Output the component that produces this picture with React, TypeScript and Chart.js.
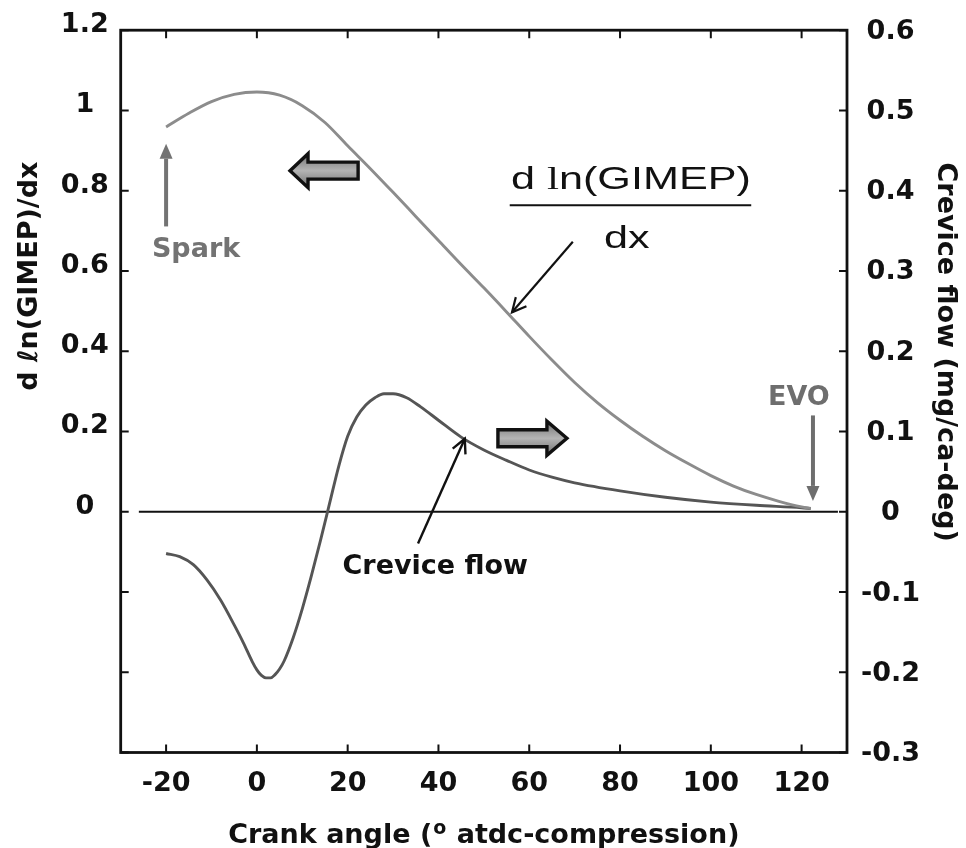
import { useEffect, useRef } from "react";
import { Chart, registerables } from "chart.js";

Chart.register(...registerables);

// d ln(GIMEP)/dx against crank angle (deg ATDC-compression), left axis
const gimepAngles = [-20, -15, -10, -5, 0, 5, 10, 15, 20, 25, 30, 35, 40, 45, 50, 55, 60, 65, 70, 75, 80, 85, 90, 95, 100, 105, 110, 115, 120, 122];
const gimepValues = [0.959, 0.993, 1.022, 1.040, 1.046, 1.038, 1.012, 0.970, 0.912, 0.855, 0.796, 0.736, 0.676, 0.616, 0.558, 0.498, 0.437, 0.378, 0.322, 0.272, 0.228, 0.188, 0.152, 0.120, 0.090, 0.064, 0.043, 0.026, 0.012, 0.008];

// Crevice flow (mg/ca-deg) against crank angle, right axis
const creviceAngles = [-20, -17, -14, -11, -8, -5, -3, -1, 0, 1, 2, 3, 4, 5, 6, 8, 10, 12, 14, 16, 18, 20, 22, 24, 26, 28, 30, 33, 36, 40, 45, 50, 55, 60, 65, 70, 80, 90, 100, 110, 120, 122];
const creviceValues = [-0.052, -0.056, -0.066, -0.085, -0.110, -0.141, -0.163, -0.187, -0.197, -0.204, -0.207, -0.207, -0.203, -0.196, -0.186, -0.157, -0.121, -0.080, -0.036, 0.010, 0.056, 0.094, 0.118, 0.133, 0.142, 0.147, 0.147, 0.142, 0.131, 0.114, 0.093, 0.077, 0.064, 0.052, 0.043, 0.036, 0.026, 0.018, 0.012, 0.008, 0.005, 0.004];

// Horizontal zero reference line
const zeroLineAngles = [-26, 128];
const zeroLineValues = [0, 0];

// Axis ticks
const xTickValues = [-20, 0, 20, 40, 60, 80, 100, 120];
const leftTickValues = [-0.6, -0.4, -0.2, 0, 0.2, 0.4, 0.6, 0.8, 1, 1.2];
const leftTickLabels = ["", "", "", "0", "0.2", "0.4", "0.6", "0.8", "1", "1.2"];
const rightTickValues = [-0.3, -0.2, -0.1, 0, 0.1, 0.2, 0.3, 0.4, 0.5, 0.6];
const rightTickLabels = ["-0.3", "-0.2", "-0.1", "0", "0.1", "0.2", "0.3", "0.4", "0.5", "0.6"];

const SANS = '"DejaVu Sans", "Liberation Sans", sans-serif';
const TICK_FONT = { family: SANS, size: 27, weight: "bold" as const };

const toPoints = (xs: number[], ys: number[]) => xs.map((x, i) => ({ x, y: ys[i] }));

function lineArrow(
  ctx: CanvasRenderingContext2D,
  x1: number, y1: number, x2: number, y2: number,
  color: string, width: number, headLen: number, headHalf: number, filled: boolean
) {
  const ang = Math.atan2(y2 - y1, x2 - x1);
  const cos = Math.cos(ang), sin = Math.sin(ang);
  const bx = x2 - cos * headLen, by = y2 - sin * headLen;
  ctx.save();
  ctx.strokeStyle = color;
  ctx.fillStyle = color;
  ctx.lineWidth = width;
  ctx.lineCap = "butt";
  ctx.beginPath();
  ctx.moveTo(x1, y1);
  ctx.lineTo(filled ? bx : x2, filled ? by : y2);
  ctx.stroke();
  ctx.beginPath();
  ctx.moveTo(bx - sin * headHalf, by + cos * headHalf);
  ctx.lineTo(x2, y2);
  ctx.lineTo(bx + sin * headHalf, by - cos * headHalf);
  if (filled) {
    ctx.closePath();
    ctx.fill();
  } else {
    ctx.lineJoin = "miter";
    ctx.stroke();
  }
  ctx.restore();
}

function blockArrow(
  ctx: CanvasRenderingContext2D,
  tipX: number, tailX: number, cy: number,
  shaftH: number, headH: number, headLen: number
) {
  const dir = Math.sign(tailX - tipX);
  const baseX = tipX + dir * headLen;
  ctx.save();
  ctx.beginPath();
  ctx.moveTo(tipX, cy);
  ctx.lineTo(baseX, cy - headH / 2);
  ctx.lineTo(baseX, cy - shaftH / 2);
  ctx.lineTo(tailX, cy - shaftH / 2);
  ctx.lineTo(tailX, cy + shaftH / 2);
  ctx.lineTo(baseX, cy + shaftH / 2);
  ctx.lineTo(baseX, cy + headH / 2);
  ctx.closePath();
  const g = ctx.createLinearGradient(0, cy - headH / 2, 0, cy + headH / 2);
  g.addColorStop(0, "#727272");
  g.addColorStop(0.5, "#b4b4b4");
  g.addColorStop(1, "#727272");
  ctx.fillStyle = g;
  ctx.fill();
  ctx.lineWidth = 3.4;
  ctx.lineJoin = "miter";
  ctx.strokeStyle = "#111";
  ctx.stroke();
  ctx.restore();
}

// Frame and inward-pointing tick marks on all four sides
const frameTicks = {
  id: "frameTicks",
  afterDatasetsDraw(chart: any) {
    const { ctx, chartArea: a, scales } = chart;
    const len = 8;
    ctx.save();
    ctx.strokeStyle = "#111";
    ctx.lineWidth = 2;
    ctx.beginPath();
    xTickValues.forEach((v) => {
      const px = scales.x.getPixelForValue(v);
      ctx.moveTo(px, a.bottom);
      ctx.lineTo(px, a.bottom - len);
      ctx.moveTo(px, a.top);
      ctx.lineTo(px, a.top + len);
    });
    leftTickValues.forEach((v) => {
      const py = scales.y.getPixelForValue(v);
      ctx.moveTo(a.left, py);
      ctx.lineTo(a.left + len, py);
    });
    rightTickValues.forEach((v) => {
      const py = scales.y1.getPixelForValue(v);
      ctx.moveTo(a.right, py);
      ctx.lineTo(a.right - len, py);
    });
    ctx.stroke();
    ctx.lineWidth = 2.8;
    ctx.strokeRect(a.left, a.top, a.right - a.left, a.bottom - a.top);
    ctx.restore();
  },
};

// Axis titles and in-plot callouts
const callouts = {
  id: "callouts",
  afterDraw(chart: any) {
    const { ctx, chartArea: a, scales } = chart;
    const X = (v: number) => scales.x.getPixelForValue(v);
    const Y = (v: number) => scales.y.getPixelForValue(v);
    const bold = `bold 27px ${SANS}`;

    ctx.save();
    ctx.textBaseline = "alphabetic";

    // Left axis title
    ctx.save();
    ctx.translate(a.left - 84, a.top + 246);
    ctx.rotate(-Math.PI / 2);
    ctx.font = bold;
    ctx.fillStyle = "#111";
    ctx.textAlign = "center";
    ctx.fillText("d \u2113n(GIMEP)/dx", 0, 0);
    ctx.restore();

    // Right axis title
    ctx.save();
    ctx.translate(a.right + 91, a.top + 322);
    ctx.rotate(Math.PI / 2);
    ctx.font = bold;
    ctx.fillStyle = "#111";
    ctx.textAlign = "center";
    ctx.fillText("Crevice flow (mg/ca-deg)", 0, 0);
    ctx.restore();

    // Bottom axis title with a raised degree "o"
    {
      const pre = "Crank angle (";
      const sup = "o";
      const post = " atdc-compression)";
      const supFont = `bold 19px ${SANS}`;
      ctx.font = bold;
      const wPre = ctx.measureText(pre).width;
      const wPost = ctx.measureText(post).width;
      ctx.font = supFont;
      const wSup = ctx.measureText(sup).width + 2;
      const total = wPre + wSup + wPost;
      let x = (a.left + a.right) / 2 - total / 2;
      const base = a.bottom + 90;
      ctx.fillStyle = "#111";
      ctx.textAlign = "left";
      ctx.font = bold;
      ctx.fillText(pre, x, base);
      x += wPre + 1;
      ctx.font = supFont;
      ctx.fillText(sup, x, base - 9);
      x += wSup - 1;
      ctx.font = bold;
      ctx.fillText(post, x, base);
    }

    // Spark marker
    ctx.font = bold;
    ctx.fillStyle = "#737373";
    ctx.textAlign = "center";
    ctx.fillText("Spark", X(-13.4), Y(0.634));
    lineArrow(ctx, X(-20), Y(0.711), X(-20), Y(0.917), "#737373", 4, 15, 6.5, true);

    // EVO marker
    ctx.font = bold;
    ctx.fillStyle = "#6e6e6e";
    ctx.textAlign = "center";
    ctx.fillText("EVO", X(119.4), Y(0.265));
    lineArrow(ctx, X(122.5), Y(0.24), X(122.5), Y(0.027), "#6e6e6e", 4, 15, 6.5, true);

    // Block arrows: which axis each curve belongs to
    blockArrow(ctx, X(7.3), X(22.3), Y(0.85), 17, 34, 18);
    blockArrow(ctx, X(68.3), X(53.1), Y(0.183), 17, 34, 20);

    // Fraction label for the upper curve
    {
      const f = 32;
      const sx = 1.35;
      const sans = `${f}px "Liberation Sans", Arial, sans-serif`;
      const serif = `${f}px "Liberation Serif", "Times New Roman", serif`;
      const parts: [string, string][] = [["d ", sans], ["l", serif], ["n(GIMEP)", sans]];
      let w = 0;
      parts.forEach(([t, fnt]) => { ctx.font = fnt; w += ctx.measureText(t).width; });
      const cx = X(82.4);
      ctx.save();
      ctx.translate(cx, Y(0.805));
      ctx.scale(sx, 1);
      ctx.fillStyle = "#111";
      ctx.textAlign = "left";
      let x = -w / 2;
      parts.forEach(([t, fnt]) => { ctx.font = fnt; ctx.fillText(t, x, 0); x += ctx.measureText(t).width; });
      ctx.restore();

      ctx.save();
      ctx.strokeStyle = "#111";
      ctx.lineWidth = 2;
      ctx.beginPath();
      ctx.moveTo(X(55.7), Y(0.764));
      ctx.lineTo(X(108.9), Y(0.764));
      ctx.stroke();
      ctx.restore();

      ctx.save();
      ctx.translate(X(81.5), Y(0.656));
      ctx.scale(sx, 1);
      ctx.font = sans;
      ctx.fillStyle = "#111";
      ctx.textAlign = "center";
      ctx.fillText("dx", 0, 0);
      ctx.restore();
    }
    lineArrow(ctx, X(69.6), Y(0.673), X(56.2), Y(0.497), "#111", 2.2, 14, 7, false);

    // Crevice flow callout
    ctx.font = bold;
    ctx.fillStyle = "#111";
    ctx.textAlign = "center";
    ctx.fillText("Crevice flow", X(39.3), Y(-0.154));
    lineArrow(ctx, X(35.5), Y(-0.079), X(45.8), Y(0.182), "#111", 2.4, 14, 7, false);

    ctx.restore();
  },
};

export default function App() {
  const canvasRef = useRef<HTMLCanvasElement | null>(null);

  useEffect(() => {
    const canvas = canvasRef.current;
    if (!canvas) return;
    const chart = new Chart(canvas, {
      type: "line",
      data: {
        datasets: [
          {
            label: "d ln(GIMEP)/dx",
            data: toPoints(gimepAngles, gimepValues),
            yAxisID: "y",
            borderColor: "#8c8c8c",
            borderWidth: 2.9,
            pointRadius: 0,
            cubicInterpolationMode: "monotone",
            fill: false,
          },
          {
            label: "Crevice flow",
            data: toPoints(creviceAngles, creviceValues),
            yAxisID: "y1",
            borderColor: "#555555",
            borderWidth: 2.9,
            pointRadius: 0,
            cubicInterpolationMode: "monotone",
            fill: false,
          },
          {
            label: "zero",
            data: toPoints(zeroLineAngles, zeroLineValues),
            yAxisID: "y",
            borderColor: "#111111",
            borderWidth: 1.8,
            pointRadius: 0,
            fill: false,
          },
        ],
      },
      options: {
        animation: false,
        responsive: true,
        maintainAspectRatio: false,
        devicePixelRatio: 1,
        events: [],
        layout: { padding: { top: 29.5, left: 0, right: 0, bottom: 0 } },
        plugins: {
          legend: { display: false },
          tooltip: { enabled: false },
          title: { display: false },
        },
        scales: {
          x: {
            type: "linear",
            position: "bottom",
            min: -30,
            max: 130,
            afterBuildTicks: (s: any) => {
              s.ticks = xTickValues.map((value) => ({ value }));
            },
            afterFit: (s: any) => {
              s.height = 95.5;
            },
            grid: { display: false, drawTicks: false },
            border: { display: false },
            ticks: {
              font: TICK_FONT,
              color: "#111",
              padding: 15,
              autoSkip: false,
              maxRotation: 0,
              callback: (v: any) => String(v),
            },
          },
          y: {
            type: "linear",
            position: "left",
            min: -0.6,
            max: 1.2,
            afterBuildTicks: (s: any) => {
              s.ticks = leftTickValues.map((value) => ({ value }));
            },
            afterFit: (s: any) => {
              s.width = 120.7;
            },
            grid: { display: false, drawTicks: false },
            border: { display: false },
            ticks: {
              font: TICK_FONT,
              color: "#111",
              padding: 12,
              crossAlign: "center",
              labelOffset: -5,
              autoSkip: false,
              callback: (_v: any, i: number) => leftTickLabels[i],
            },
          },
          y1: {
            type: "linear",
            position: "right",
            min: -0.3,
            max: 0.6,
            afterBuildTicks: (s: any) => {
              s.ticks = rightTickValues.map((value) => ({ value }));
            },
            afterFit: (s: any) => {
              s.width = 119;
            },
            grid: { display: false, drawTicks: false },
            border: { display: false },
            ticks: {
              font: TICK_FONT,
              color: "#111",
              padding: 14,
              crossAlign: "center",
              labelOffset: 1.5,
              autoSkip: false,
              callback: (_v: any, i: number) => rightTickLabels[i],
            },
          },
        },
      },
      plugins: [frameTicks, callouts],
    } as any);
    return () => chart.destroy();
  }, []);

  return (
    <div style={{ position: "fixed", left: 0, top: 0, width: 966, height: 848, background: "#ffffff" }}>
      <canvas ref={canvasRef} />
    </div>
  );
}
